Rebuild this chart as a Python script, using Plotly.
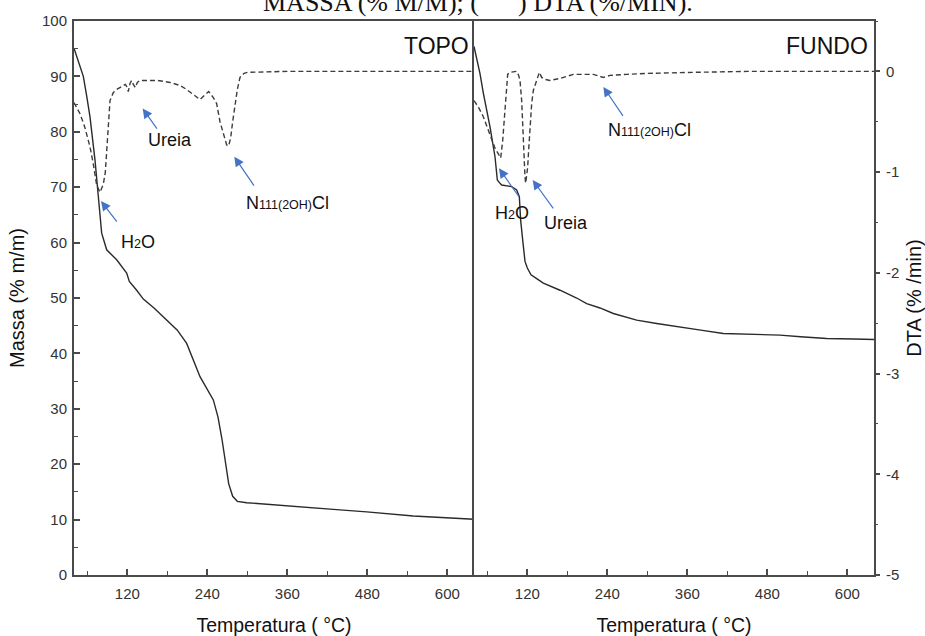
import plotly.graph_objects as go

# ---------------- data ----------------
topo_T = [40, 47, 54, 59, 64, 71.5, 76.5, 81.5, 89, 104, 119, 121, 123, 134, 144, 160, 179, 195,
          209, 229, 249, 256, 262, 267, 272, 278, 285, 299, 359, 429, 479, 549, 640]
topo_mass = [95.1, 92.5, 90, 86.5, 82.7, 74.9, 67.7, 61.7, 58.7, 56.9, 54.5, 53.6, 53.0, 51.4, 49.8,
             48.2, 46.0, 44.2, 41.8, 35.8, 31.6, 28.5, 24.5, 20.5, 16.5, 14.2, 13.3, 13.05, 12.45,
             11.85, 11.4, 10.65, 10.05]

topo_dta_T = [40, 49, 56, 64, 69, 74, 79, 84, 87, 89, 91.5, 94, 99, 104, 112, 117, 119, 121.5, 124,
              126.5, 129, 132, 135, 139, 150, 165, 184, 199, 209, 220, 229, 237, 242, 249, 254, 259,
              264, 269, 272, 275, 278, 281.5, 285, 289, 295, 300, 360, 640]
topo_dta = [-0.31, -0.42, -0.55, -0.75, -0.92, -1.13, -1.20, -1.12, -1.0, -0.78, -0.55, -0.29, -0.21,
            -0.18, -0.15, -0.13, -0.15, -0.20, -0.12, -0.09, -0.13, -0.16, -0.11, -0.09, -0.09, -0.09,
            -0.11, -0.14, -0.18, -0.24, -0.28, -0.23, -0.20, -0.26, -0.32, -0.50, -0.62, -0.73, -0.74,
            -0.66, -0.50, -0.33, -0.18, -0.06, -0.02, -0.01, 0.0, 0.0]

fundo_T = [40, 49, 54, 59, 64, 71.5, 75, 79, 81.5, 96.5, 104, 108, 110, 113, 116.5, 120, 125.5, 134,
           144, 169, 194, 209, 229, 249, 265, 284, 314, 344, 380, 414, 460, 499, 530, 569, 610, 640]
fundo_mass = [95.4, 90.5, 87, 83.9, 80.9, 75.5, 71.3, 70.7, 70.4, 70.1, 69.5, 68.3, 64.0, 60.5, 56.6,
              55.4, 54.2, 53.5, 52.7, 51.4, 50.0, 49.0, 48.2, 47.2, 46.6, 46.0, 45.4, 44.8, 44.2,
              43.6, 43.4, 43.3, 43.0, 42.7, 42.6, 42.5]

fundo_dta_T = [40, 47, 54, 60, 66.5, 72, 76.5, 80, 83, 86.5, 89, 90.5, 94, 100, 104, 107, 109, 111.5,
               113, 114.5, 116.5, 117.5, 119, 120.5, 122, 124, 126.5, 129, 134, 138, 141.5, 147, 154,
               169, 189, 219, 234, 244, 269, 300, 369, 450, 640]
fundo_dta = [-0.29, -0.36, -0.45, -0.56, -0.69, -0.77, -0.82, -0.86, -0.69, -0.36, -0.12, -0.03, -0.01,
             0.0, 0.0, -0.04, -0.09, -0.29, -0.55, -0.85, -1.05, -1.11, -1.05, -0.95, -0.78, -0.55,
             -0.32, -0.19, -0.09, -0.01, -0.06, -0.08, -0.09, -0.07, -0.03, -0.03, -0.06, -0.04,
             -0.03, -0.02, -0.01, 0.0, 0.0]

x_ticks = [120, 240, 360, 480, 600]
x_minor_ticks = [60, 180, 300, 420, 540]
mass_ticks = [0, 10, 20, 30, 40, 50, 60, 70, 80, 90, 100]
dta_ticks = [0, -1, -2, -3, -4, -5]
dta_ticktext = ["0", "-1", "-2", "-3", "-4", "-5"]

# annotation labels
SUB = '<span style="font-size:12.5px">{}</span>'
label_panel = ["x", "x", "x", "x2", "x2", "x2"]
label_text = ["Ureia", "H" + SUB.format("2") + "O", "N" + SUB.format("111(2OH)") + "Cl",
              "H" + SUB.format("2") + "O", "Ureia", "N" + SUB.format("111(2OH)") + "Cl"]
label_T = [184, 136, 359.5, 97.5, 178, 303]
label_mass = [78.5, 60.1, 67.1, 65.3, 63.6, 80.3]
tail_T = [166, 106, 311.5, 109, 160.5, 265]
tail_mass = [80.3, 63.5, 70.0, 68.0, 65.9, 82.6]
tip_T = [143, 80.5, 280.5, 77.5, 128, 234]
tip_mass = [84.2, 67.5, 75.5, 73.4, 71.3, 88.1]

# ---------------- figure ----------------
SANS = "Liberation Sans, Arial, sans-serif"
AX = "#4a4a4a"
fig = go.Figure()

fig.add_trace(go.Scatter(x=topo_T, y=topo_mass, mode="lines", xaxis="x", yaxis="y",
                         line=dict(color="#2a2a2a", width=1.4)))
fig.add_trace(go.Scatter(x=topo_dta_T, y=topo_dta, mode="lines", xaxis="x", yaxis="y2",
                         line=dict(color="#3c3c3c", width=1.4, dash="5px,3px")))
fig.add_trace(go.Scatter(x=fundo_T, y=fundo_mass, mode="lines", xaxis="x2", yaxis="y3",
                         line=dict(color="#2a2a2a", width=1.4)))
fig.add_trace(go.Scatter(x=fundo_dta_T, y=fundo_dta, mode="lines", xaxis="x2", yaxis="y4",
                         line=dict(color="#3c3c3c", width=1.4, dash="5px,3px")))

xcommon = dict(range=[40, 640], tickvals=x_ticks, ticks="inside", ticklen=6, tickwidth=1.5,
               tickcolor=AX, showline=True, linecolor=AX, linewidth=2, mirror=True,
               showgrid=False, zeroline=False, automargin=False,
               minor=dict(tickvals=x_minor_ticks, ticks="inside", ticklen=4,
                          tickcolor=AX, tickwidth=1.2),
               tickfont=dict(family=SANS, size=15, color="#333"), ticklabelstandoff=4,
               title=dict(text="Temperatura ( °C)", font=dict(family=SANS, size=19.5, color="#111"),
                          standoff=18))

fig.update_layout(
    template="none",
    width=925, height=636,
    margin=dict(l=74, r=51, t=21, b=61, autoexpand=False),
    paper_bgcolor="white", plot_bgcolor="white",
    showlegend=False,
    xaxis=dict(domain=[0, 0.5], anchor="y", **xcommon),
    xaxis2=dict(domain=[0.5, 1], anchor="y3", **xcommon),
    yaxis=dict(domain=[0, 1], anchor="x", range=[0, 100], tickvals=mass_ticks, ticks="inside",
               ticklen=6, tickwidth=1.5, tickcolor=AX, showline=True, linecolor=AX, linewidth=2,
               mirror=False, showgrid=False, zeroline=False, automargin=False,
               minor=dict(dtick=5, ticks="inside", ticklen=4, tickcolor=AX, tickwidth=1.2),
               tickfont=dict(family=SANS, size=15, color="#333"), ticklabelstandoff=2,
               title=dict(text="Massa (% m/m)", font=dict(family=SANS, size=20, color="#111"),
                          standoff=12)),
    yaxis2=dict(overlaying="y", anchor="x", range=[-5, 0.5], visible=False),
    yaxis3=dict(domain=[0, 1], anchor="x2", range=[0, 100], showticklabels=False, ticks="",
                showline=True, linecolor=AX, linewidth=2, mirror=True, showgrid=False,
                zeroline=False, automargin=False),
    yaxis4=dict(overlaying="y3", anchor="x2", side="right", range=[-5, 0.5], tickvals=dta_ticks,
                ticktext=dta_ticktext,
                ticks="outside", ticklen=5, tickwidth=1.5, tickcolor=AX, showline=False,
                showgrid=False, zeroline=False, automargin=False,
                minor=dict(dtick=0.5, ticks="outside", ticklen=3, tickcolor=AX, tickwidth=1.2),
                tickfont=dict(family=SANS, size=15, color="#333"), ticklabelstandoff=3,
                title=dict(text="DTA (% /min)", font=dict(family=SANS, size=20, color="#111"),
                           standoff=10)),
)

annotations = []
# clipped caption at the top
annotations.append(dict(xref="paper", yref="paper", x=0.5044, y=1.0045, xanchor="center",
                        yanchor="bottom", showarrow=False,
                        text="MASSA (% M/M); (" + "\u00a0" * 6 + ") DTA (%/MIN).",
                        font=dict(family="Liberation Serif, Times New Roman, serif", size=26,
                                  color="#111")))
# panel names
annotations.append(dict(xref="x", yref="y", x=635.5, y=95.4, xanchor="right", yanchor="middle",
                        showarrow=False, text="TOPO",
                        font=dict(family=SANS, size=23, color="#111")))
annotations.append(dict(xref="x2", yref="y3", x=634, y=95.4, xanchor="right", yanchor="middle",
                        showarrow=False, text="FUNDO",
                        font=dict(family=SANS, size=23, color="#111")))
for i in range(len(label_text)):
    xr = label_panel[i]
    yr = "y" if xr == "x" else "y3"
    annotations.append(dict(xref=xr, yref=yr, x=label_T[i], y=label_mass[i], showarrow=False,
                            text=label_text[i], xanchor="center", yanchor="middle",
                            font=dict(family=SANS, size=18, color="#111")))
    annotations.append(dict(xref=xr, yref=yr, x=tip_T[i], y=tip_mass[i], axref=xr, ayref=yr,
                            ax=tail_T[i], ay=tail_mass[i], text="", showarrow=True,
                            arrowhead=2, arrowsize=1.6, arrowwidth=1.2, arrowcolor="#4472C4",
                            standoff=0, startstandoff=0))
fig.update_layout(annotations=annotations)

fig.write_html("out.html")
